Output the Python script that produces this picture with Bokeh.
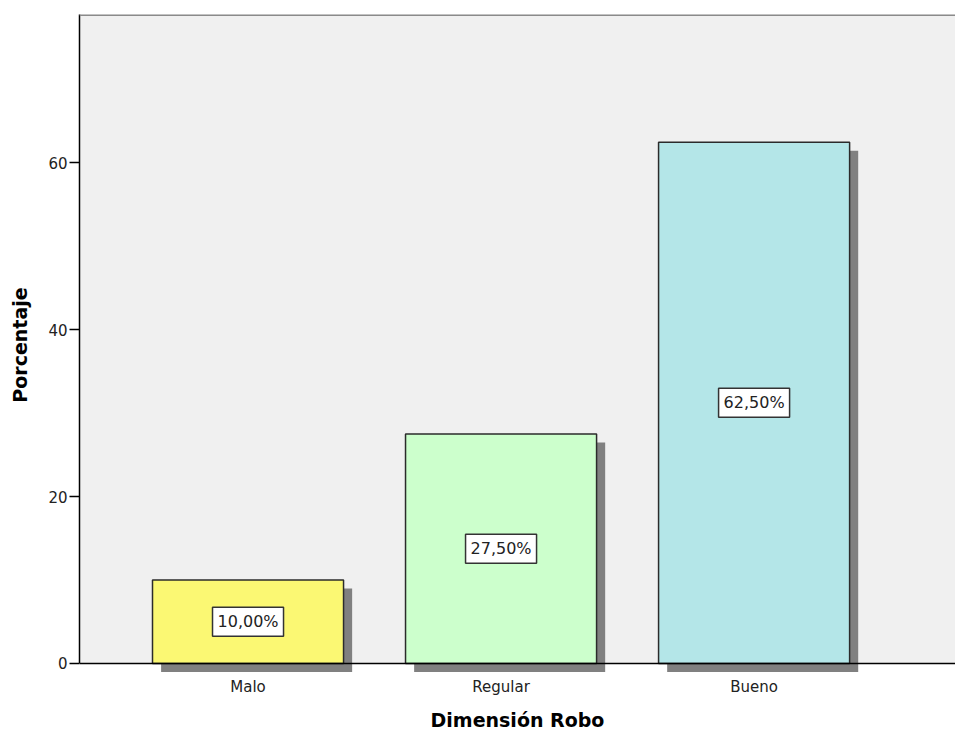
from bokeh.plotting import figure
from bokeh.models import Range1d, FixedTicker, Span, BoxAnnotation, Label
from bokeh.embed import file_html
from bokeh.resources import INLINE

categories = ["Malo", "Regular", "Bueno"]
values = [10.0, 27.5, 62.5]
colors = ["#FBF873", "#CCFFCC", "#B4E6E8"]
y_ticks = [0, 20, 40, 60]

positions = [i + 1 for i in range(len(categories))]
bar_w = 0.755
dx = 0.034
dy = 1.02
y_top = 77.8

p = figure(width=955, height=733, output_backend="svg", toolbar_location=None,
           x_range=Range1d(0.334, 3.796), y_range=Range1d(-1.44, y_top),
           min_border_left=79, min_border_right=0, min_border_top=14, min_border_bottom=58)
p.background_fill_color = "white"
p.border_fill_color = "white"
p.outline_line_color = None
p.grid.visible = False

p.add_layout(BoxAnnotation(bottom=0, fill_color="#F0F0F0", fill_alpha=1.0,
                           line_color=None, level="underlay"))

# shadows
p.quad(left=[x - bar_w / 2 + dx for x in positions],
       right=[x + bar_w / 2 + dx for x in positions],
       top=[v - dy for v in values], bottom=[-dy] * len(values),
       fill_color="#808080", line_color=None)
# bars
p.quad(left=[x - bar_w / 2 for x in positions],
       right=[x + bar_w / 2 for x in positions],
       top=values, bottom=[0] * len(values),
       fill_color=colors, line_color="#2b2b2b", line_width=1.5)

p.add_layout(Span(location=0, dimension="width", line_color="black", line_width=1.5))
p.add_layout(Span(location=y_top, dimension="width", line_color="#8a8a8a", line_width=3))

for x, v in zip(positions, values):
    txt = f"{v:.2f}".replace(".", ",") + "%"
    p.add_layout(Label(x=x, y=v / 2, text=txt, text_align="center", text_baseline="middle",
                       text_font="DejaVu Sans", text_font_size="16px", text_color="#222222",
                       background_fill_color="white", border_line_color="#333333",
                       border_line_width=1.5, padding=5))

# y axis
ya = p.yaxis[0]
ya.ticker = FixedTicker(ticks=y_ticks)
ya.bounds = (0, y_top)
ya.axis_line_color = "black"
ya.axis_line_width = 1.5
ya.major_tick_out = 10
ya.major_tick_in = 0
ya.major_tick_line_width = 1.5
ya.minor_tick_line_color = None
ya.major_label_standoff = 2
ya.major_label_text_font = "DejaVu Sans"
ya.major_label_text_font_size = "15px"
ya.major_label_text_color = "#222222"
ya.axis_label = "Porcentaje"
ya.axis_label_text_font = "DejaVu Sans"
ya.axis_label_text_font_style = "bold"
ya.axis_label_text_font_size = "19px"
ya.axis_label_text_color = "black"
ya.axis_label_standoff = 14

# x axis
xa = p.xaxis[0]
xa.ticker = FixedTicker(ticks=positions)
xa.major_label_overrides = {x: c for x, c in zip(positions, categories)}
xa.axis_line_color = None
xa.major_tick_line_color = None
xa.major_tick_out = 0
xa.major_tick_in = 0
xa.minor_tick_line_color = None
xa.minor_tick_out = 0
xa.major_label_standoff = 2
xa.major_label_text_font = "DejaVu Sans"
xa.major_label_text_font_size = "15px"
xa.major_label_text_color = "#222222"
xa.axis_label = "Dimensión Robo"
xa.axis_label_text_font = "DejaVu Sans"
xa.axis_label_text_font_style = "bold"
xa.axis_label_text_font_size = "19px"
xa.axis_label_text_color = "black"
xa.axis_label_standoff = 10

open("out.html", "w").write(file_html(p, INLINE))
